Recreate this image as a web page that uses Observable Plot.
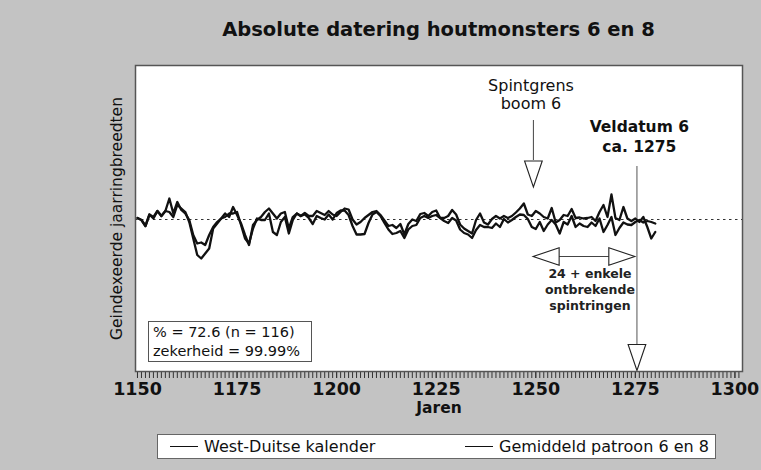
<!DOCTYPE html>
<html>
<head>
<meta charset="utf-8">
<script src="https://cdn.jsdelivr.net/npm/d3@7"></script>
<script src="https://cdn.jsdelivr.net/npm/@observablehq/plot@0.6"></script>
<style>
  html, body { margin: 0; padding: 0; background: #c2c2c2; }
  #wrap { position: relative; width: 761px; height: 470px; background: #c3c3c3; overflow: hidden;
          font-family: "DejaVu Sans", sans-serif; color: #111; }
  #title { position: absolute; left: 135px; width: 607px; top: 18px; text-align: center;
           font-weight: bold; font-size: 19.5px; line-height: 24px; }
  #chart { position: absolute; left: 0; top: 50px; }
  #stats { position: absolute; left: 148px; top: 321px; width: 164px; height: 41px; background: #fff;
           border: 1px solid #555; font-size: 14.5px; line-height: 19px; padding: 1px 0 0 4px; box-sizing: border-box; }
  #legend { position: absolute; left: 157px; top: 434px; width: 559px; height: 25px; background: #fff;
            border: 1px solid #666; box-sizing: border-box; font-size: 16px; line-height: 23px; white-space: nowrap; }
  #legend span.item { position: absolute; top: 0; }
  #legend span.sw { display: inline-block; width: 28px; height: 0; border-top: 1.6px solid #111; vertical-align: middle; margin-right: 6px; position: relative; top: -1px; }
</style>
</head>
<body>
<div id="wrap">
  <div id="title">Absolute datering houtmonsters 6 en 8</div>
  <div id="chart"></div>
  <div id="stats">% = 72.6 (n = 116)<br>zekerheid = 99.99%</div>
  <div id="legend"></div>
</div>
<script>
// ---- data (indexed ring widths, 100 = mean) ----
const firstYear = 1150;
const lastYear = 1280;
const westDuits = [
  103, 99, 87,110,105,117,107,117,142,112,135,119,112, 99, 69, 52, 54, 49, 69, 85,
   95,102,112,105,125,109, 92, 69, 49, 89, 99,105,115,122,112,102,112,115, 82,105,
  112,107,113,107,107,117,113,109,117,110,107,115,122,120,100, 90, 95,103,109,115,
  117,109, 98, 87, 89, 83, 91, 70, 91,100, 97,111,113,107,115,118,103,103,107,119,
  110, 90, 82, 77, 72, 99,112, 94, 90,101,107,102,107,103,107,114,122,132,110,107,
  117,112,105,102,123, 94, 99,109,107,121,103,104,102,103,105, 97,115,129,105,150,
  103, 99,125,102, 97,102, 95,105, 85, 62, 75
];
const gemiddeld = [
  103, 99, 87,110,102,117,107,117,115,105,129,122,115, 95, 62, 29, 22, 32, 42, 82,
   92,102,105,112,112,115, 89, 62, 52, 82,102, 99, 99,112, 75, 69, 95,105, 72, 99,
  112,107,110,103, 91,107,103,100,110,100,113,118,118,109, 87, 70, 70, 71, 93,110,
  115,107, 93, 80, 71, 73, 77, 63, 80, 87, 89,103,107,103,107,109,103, 97, 93,103,
   98, 80, 73, 70, 63, 79, 89, 85, 85, 83, 92, 85,101, 94, 99,105,110,109,101, 85,
   81, 95, 77, 90, 99, 90, 72, 95, 90,107, 85, 92, 87, 85, 94, 87,102, 75, 89,105,
   69, 83, 94, 90, 89, 95, 99, 94, 97, 95, 92
];
const seriesNames = ["West-Duitse kalender", "Gemiddeld patroon 6 en 8"];
const majorTicks = [1150, 1175, 1200, 1225, 1250, 1275, 1300];
const meanLevel = [100];

// annotations (data coordinates)
const spintgrensYear = [1249.4];
const veldatumYear = [1275.4];
const spanYears = [1252.6, 1271.6];  // centres of the two side arrow heads
const spanLevel = [26];
const labels = [
  {year: 1248.8, level: 368, text: "Spintgrens", kind: "plain"},
  {year: 1248.8, level: 332, text: "boom 6", kind: "plain"},
  {year: 1276.0, level: 284, text: "Veldatum 6", kind: "big"},
  {year: 1276.0, level: 244, text: "ca. 1275", kind: "big"},
  {year: 1263.6, level: -8, text: "24 + enkele", kind: "small"},
  {year: 1263.6, level: -40, text: "ontbrekende", kind: "small"},
  {year: 1263.6, level: -72, text: "spintringen", kind: "small"}
];

const years = d3.range(firstYear, lastYear + 1);
const rows = years.map((yr, i) => ({year: yr, a: westDuits[i], b: gemiddeld[i]}));

const arrowHead = {
  draw(context, size) {
    const r = Math.sqrt(size / Math.PI);
    const w = 0.68 * r;
    context.moveTo(-w, -r);
    context.lineTo(w, -r);
    context.lineTo(0, r);
    context.closePath();
  }
};

const heads = [
  {year: spintgrensYear[0], level: 191, rot: 0},
  {year: veldatumYear[0], level: -176, rot: 0},
  {year: spanYears[0], level: spanLevel[0], rot: 90},
  {year: spanYears[1], level: spanLevel[0], rot: -90}
];

const chart = Plot.plot({
  width: 761,
  height: 372,
  marginLeft: 135,
  marginRight: 19,
  marginTop: 15,
  marginBottom: 51,
  style: {fontFamily: "DejaVu Sans, sans-serif", color: "#111", background: "transparent", overflow: "visible"},
  x: {domain: [1149.5, 1301.9], label: null},
  y: {domain: [-204, 408], axis: null},
  marks: [
    Plot.frame({fill: "white"}),
    Plot.ruleY(meanLevel, {stroke: "#333", strokeDasharray: "2.5,3.5", strokeWidth: 1}),
    Plot.ruleX(spintgrensYear, {y1: 298, y2: 218, stroke: "#444", strokeWidth: 1}),
    Plot.ruleX(veldatumYear, {y1: 206, y2: -152, stroke: "#555", strokeWidth: 1}),
    Plot.ruleY(spanLevel, {x1: spanYears[0], x2: spanYears[1], stroke: "#444", strokeWidth: 1}),
    Plot.line(rows, {x: "year", y: "b", stroke: "#111", strokeWidth: 2.3, strokeLinejoin: "round"}),
    Plot.line(rows, {x: "year", y: "a", stroke: "#111", strokeWidth: 2.3, strokeLinejoin: "round"}),
    Plot.dot(heads, {x: "year", y: "level", symbol: arrowHead, r: 13, rotate: "rot", fill: "white", stroke: "#222", strokeWidth: 1.1}),
    Plot.text(labels.filter(d => d.kind === "plain"), {x: "year", y: "level", text: "text", fontSize: 16, fill: "#111"}),
    Plot.text(labels.filter(d => d.kind === "big"), {x: "year", y: "level", text: "text", fontSize: 15.5, fontWeight: "bold", fill: "#111"}),
    Plot.text(labels.filter(d => d.kind === "small"), {x: "year", y: "level", text: "text", fontSize: 12.5, fontWeight: "bold", fill: "#222"}),
    Plot.axisX(years.concat(d3.range(lastYear + 1, 1302)), {tickSize: 7, tickFormat: () => "", stroke: "#333", strokeWidth: 1, label: null}),
    Plot.axisX(majorTicks, {tickSize: 7, tickPadding: 4, tickFormat: "d", fontSize: 17.5, fontWeight: "bold", label: null, stroke: "#333"}),
    Plot.text(["Jaren"], {frameAnchor: "bottom", dy: 41, text: d => d, fontSize: 15.5, fontWeight: "bold", fill: "#111"}),
    Plot.text(["Geindexeerde jaarringbreedten"], {frameAnchor: "left", dx: -18, rotate: -90, textAnchor: "middle", text: d => d, fontSize: 15.5, fill: "#111"}),
    Plot.frame({stroke: "#555", strokeWidth: 1.5})
  ]
});
document.getElementById("chart").appendChild(chart);

// legend
const legend = document.getElementById("legend");
const legendLeft = [12, 307];
seriesNames.forEach((name, i) => {
  const item = document.createElement("span");
  item.className = "item";
  item.style.left = legendLeft[i] + "px";
  item.innerHTML = '<span class="sw"></span>' + name;
  legend.appendChild(item);
});
</script>
</body>
</html>
